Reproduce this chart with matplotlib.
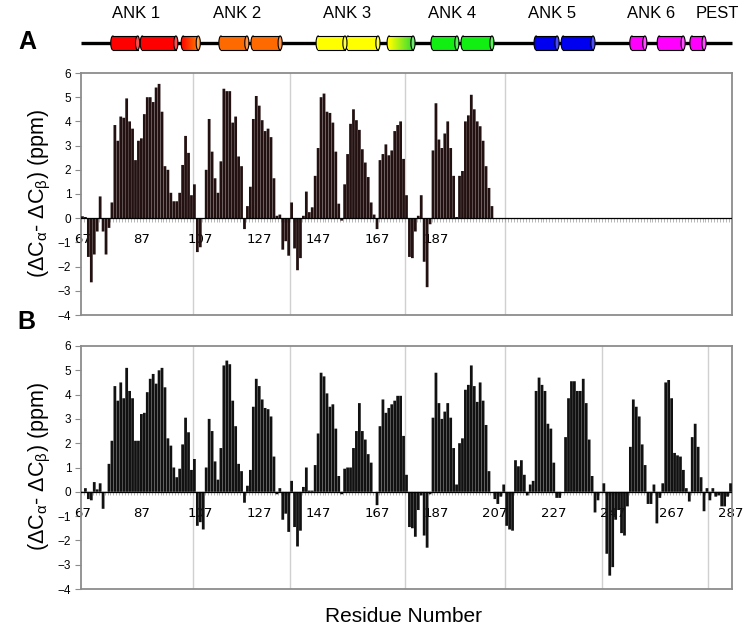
import numpy as np
import matplotlib
matplotlib.use("Agg")
import matplotlib.pyplot as plt
from matplotlib.patches import Ellipse, Rectangle
from matplotlib.colors import LinearSegmentedColormap, to_rgb

plt.rcParams['font.family'] = ['Liberation Sans', 'DejaVu Sans']
plt.rcParams['mathtext.fontset'] = 'custom'
plt.rcParams['mathtext.rm'] = 'Liberation Sans'
plt.rcParams['mathtext.it'] = 'Liberation Sans:italic'

# residue numbers
res_a = np.arange(67, 207)
res_b = np.arange(67, 288)

# secondary chemical shifts, panel A (67-206)
dcs_a = [0.08, 0.05, -1.6, -2.65, -1.5, -0.55, 0.9, -0.55, -1.5, -0.4,
         0.65, 3.85, 3.2, 4.2, 4.15, 4.95, 4.0, 3.7, 2.4, 3.2,
         3.3, 4.3, 5.0, 5.0, 4.8, 5.4, 5.55, 4.4, 2.15, 2.0,
         1.05, 0.7, 0.7, 1.05, 2.2, 3.4, 2.7, 0.95, 1.4, -1.4,
         -1.2, 0.0, 2.0, 4.1, 2.75, 1.65, 1.05, 2.35, 5.35, 5.25,
         5.25, 3.95, 4.2, 2.55, 2.15, -0.45, 0.5, 1.3, 4.1, 5.05,
         4.65, 4.05, 3.6, 3.7, 3.35, 1.65, 0.1, 0.15, -1.3, -0.95,
         -1.55, 0.65, -1.25, -2.15, -1.65, 0.1, 1.1, 0.25, 0.45, 1.75,
         2.9, 5.0, 5.15, 4.4, 4.35, 3.95, 2.75, 0.6, -0.1, 1.4,
         2.65, 3.9, 4.5, 4.05, 3.65, 2.85, 2.3, 1.7, 0.65, 0.15,
         -0.45, 2.4, 2.65, 3.05, 2.6, 2.8, 3.6, 3.85, 4.0, 2.45,
         0.95, -1.6, -1.65, -0.55, 0.1, 0.95, -1.8, -2.85, -0.25, 2.8,
         4.75, 3.25, 2.9, 3.5, 4.0, 2.9, 1.75, 0.05, 1.75, 1.95,
         4.0, 4.25, 5.1, 4.5, 4.0, 3.8, 3.2, 2.15, 1.25, 0.5]

# secondary chemical shifts, panel B (67-287)
dcs_b = [-0.05, 0.15, -0.3, -0.35, 0.4, 0.1, 0.35, -0.7, -0.05, 1.15,
         2.1, 4.35, 3.75, 4.5, 3.85, 5.1, 4.15, 3.85, 2.1, 2.1,
         3.2, 3.25, 4.1, 4.65, 4.85, 4.45, 5.0, 5.1, 4.3, 2.2,
         1.9, 1.0, 0.6, 0.95, 1.95, 3.05, 2.45, 0.9, 1.35, -1.4,
         -1.25, -1.55, 1.0, 3.0, 2.5, 1.25, 0.5, 1.8, 5.2, 5.4,
         5.25, 3.75, 2.7, 1.15, 0.85, -0.45, 0.25, 0.9, 3.5, 4.65,
         4.35, 3.8, 3.45, 3.4, 3.1, 1.45, -0.1, 0.15, -1.15, -0.9,
         -1.65, 0.45, -1.45, -2.25, -1.6, 0.2, 1.0, 0.05, 0.05, 1.1,
         2.4, 4.9, 4.75, 4.05, 3.5, 3.6, 2.6, 0.65, -0.1, 0.95,
         1.0, 1.0, 1.8, 2.5, 3.65, 2.5, 2.15, 1.55, 1.2, 0.0,
         -0.55, 2.7, 3.8, 3.25, 3.45, 3.6, 3.75, 3.95, 3.95, 2.3,
         0.7, -1.45, -1.5, -1.85, -0.75, -0.15, -1.8, -2.3, -0.1, 3.05,
         4.9, 3.65, 3.0, 3.3, 3.65, 3.05, 1.8, 0.3, 2.0, 2.2,
         4.2, 4.4, 5.2, 4.35, 3.7, 4.5, 3.75, 2.75, 0.85, 0.0,
         -0.3, -0.5, -0.2, 0.3, -1.4, -1.55, -1.6, 1.3, 1.05, 1.3,
         0.7, -0.15, 0.3, 0.45, 4.15, 4.7, 4.4, 4.15, 2.8, 2.6,
         1.2, -0.25, -0.25, 0.0, 2.25, 3.85, 4.55, 4.55, 4.15, 4.15,
         4.65, 3.65, 2.15, 0.65, -0.85, -0.35, -0.05, 0.35, -2.55, -3.45,
         -3.1, -1.15, -0.75, -1.7, -1.8, -0.6, 1.85, 3.8, 3.5, 3.1,
         1.95, 1.1, -0.5, -0.5, 0.3, -1.3, -0.25, 0.35, 4.5, 4.6,
         3.85, 1.6, 1.5, 1.45, 0.9, 0.15, -0.4, 2.25, 2.8, 1.85,
         0.6, -0.8, 0.15, -0.35, 0.15, -0.2, -0.15, -0.6, -0.6, -0.2,
         0.35]

# repeat boundaries (vertical grid lines)
bounds_a = [104.5, 137.5, 176.5, 210.5]
bounds_b = [104.5, 137.5, 176.5, 210.5, 243.5, 279.5]

labels_a = [67, 87, 107, 127, 147, 167, 187]
labels_b = [67, 87, 107, 127, 147, 167, 187, 207, 227, 247, 267, 287]

# helices for the domain cartoon (residue ranges) and colours
helix_start = [77.3, 87.3, 101.2, 114.0, 124.9, 147.0, 157.1, 171.1, 186.0, 196.2,
               221.0, 230.2, 253.5, 262.8, 273.9]
helix_end = [85.7, 98.7, 106.3, 122.8, 134.1, 156.1, 167.3, 179.2, 194.1, 206.0,
             228.1, 240.3, 257.9, 270.9, 278.0]
helix_c0 = ['#ff0000', '#ff0000', '#ff1000', '#ff6a00', '#ff6a00', '#ffff00', '#ffff00',
            '#ffff00', '#11ee11', '#11ee11', '#0000f0', '#0000f0', '#ff00ff', '#ff00ff',
            '#ff00ff']
helix_c1 = ['#ff0000', '#ff0000', '#ff8000', '#ff6a00', '#ff6a00', '#ffff00', '#ffff00',
            '#33dd33', '#11ee11', '#11ee11', '#0000f0', '#0000f0', '#ff00ff', '#ff00ff',
            '#ff00ff']
domain_names = ['ANK 1', 'ANK 2', 'ANK 3', 'ANK 4', 'ANK 5', 'ANK 6', 'PEST']
domain_pos = [85.2, 119.5, 156.8, 192.4, 226.4, 260.0, 282.4]

W, H = 750, 634
fig = plt.figure(figsize=(W / 100, H / 100), dpi=100)

ax_a = fig.add_axes([81 / W, 1 - 315 / H, 651 / W, 242 / H])
ax_b = fig.add_axes([81 / W, 1 - 589 / H, 651 / W, 243 / H])


def draw_panel(ax, res, vals, color, bounds, labels):
    ax.bar(res, vals, width=0.94, color=color, linewidth=0, zorder=3, snap=False)
    ax.axhline(0, color='black', lw=0.9, zorder=4)
    edges = np.arange(66.5, 288.5, 1.0)
    ax.vlines(edges, -0.15, 0, color='#9a9a9a', lw=0.5, zorder=2)
    for b in bounds:
        ax.axvline(b, color='#d0d0d0', lw=1.0, zorder=1)
    for r in labels:
        ax.annotate(str(r), (r, 0), xytext=(0, -18), textcoords='offset points',
                    ha='center', va='baseline', fontsize=9.5, family='DejaVu Sans',
                    zorder=2, annotation_clip=False)
    ax.set_xlim(66.5, 287.5)
    ax.set_ylim(-4, 6)
    ax.set_xticks([])
    ax.set_yticks(range(-4, 7))
    ax.tick_params(axis='y', length=4, width=0.8, color='#8c8c8c', labelsize=8.5, pad=3)
    for s in ax.spines.values():
        s.set_color('#8c8c8c')
        s.set_linewidth(1.3)


draw_panel(ax_a, res_a, dcs_a, '#231010', bounds_a, labels_a)
draw_panel(ax_b, res_b, dcs_b, '#111111', bounds_b, labels_b)

ylab = r'(ΔC$_\mathrm{α}$- ΔC$_\mathrm{β}$) (ppm)'
fig.text(40 / W, 1 - 194 / H, ylab, rotation=90, ha='center', va='center', fontsize=15.5)
fig.text(40 / W, 1 - 467 / H, ylab, rotation=90, ha='center', va='center', fontsize=15.5)
fig.text(27 / W, 1 - 42 / H, 'A', ha='center', va='center', fontsize=18, fontweight='bold')
fig.text(26 / W, 1 - 322 / H, 'B', ha='center', va='center', fontsize=18, fontweight='bold')
fig.text(404 / W, 1 - 617 / H, 'Residue Number', ha='center', va='center', fontsize=15)

# domain cartoon
ax_t = fig.add_axes([81 / W, 1 - 58 / H, 651 / W, 30 / H])
ax_t.axis('off')
ax_t.plot([66.5, 287.5], [0, 0], color='black', lw=2.4, solid_capstyle='butt', zorder=1,
          clip_on=False)
hh = 7.0
ew = 1.4


def lighter(c, f=0.3):
    rgb = np.array(to_rgb(c))
    return tuple(rgb + (1 - rgb) * f)


for x0, x1, c0, c1 in zip(helix_start, helix_end, helix_c0, helix_c1):
    ax_t.add_patch(Ellipse((x0, 0), ew, 2 * hh, facecolor=c0, edgecolor='black', lw=0.8,
                           zorder=2, clip_on=False))
    body = Rectangle((x0, -hh), x1 - x0, 2 * hh, facecolor=c0, edgecolor='none', zorder=3,
                     clip_on=False)
    ax_t.add_patch(body)
    if c0 != c1:
        cm = LinearSegmentedColormap.from_list('g', [c0, c1])
        im = ax_t.imshow(np.linspace(0, 1, 100).reshape(1, -1), extent=[x0, x1, -hh, hh],
                         aspect='auto', cmap=cm, zorder=3.5)
        im.set_clip_path(body)
    ax_t.plot([x0, x1], [hh, hh], color='black', lw=0.8, zorder=4, clip_on=False)
    ax_t.plot([x0, x1], [-hh, -hh], color='black', lw=0.8, zorder=4, clip_on=False)
    ax_t.add_patch(Ellipse((x1, 0), ew, 2 * hh, facecolor=lighter(c1), edgecolor='black',
                           lw=0.8, zorder=5, clip_on=False))

for name, p in zip(domain_names, domain_pos):
    ax_t.text(p, 29, name, ha='center', va='center', fontsize=12, clip_on=False)

ax_t.set_xlim(66.5, 287.5)
ax_t.set_ylim(-15, 15)

fig.savefig('out.png', dpi=100)
